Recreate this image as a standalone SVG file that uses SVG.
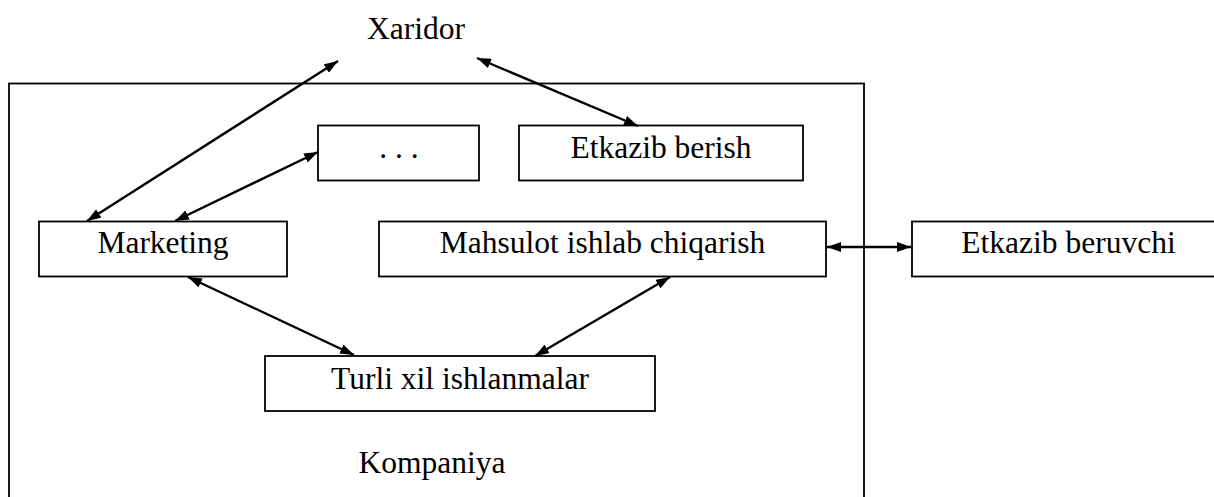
<svg xmlns="http://www.w3.org/2000/svg" width="1214" height="497" viewBox="0 0 1214 497">
<style>
.box{fill:#fff;stroke:#000;stroke-width:1.8}
.frame{fill:none;stroke:#000;stroke-width:1.8}
.lbl{font-family:"Liberation Serif","Times New Roman",serif;font-size:31.5px;fill:#000;text-anchor:middle}
.con{stroke:#000;stroke-width:2.4;fill:none;marker-start:url(#ah);marker-end:url(#ah)}
</style>
<defs>
<marker id="ah" viewBox="0 0 14 10" refX="14" refY="5" markerWidth="14" markerHeight="10" markerUnits="userSpaceOnUse" orient="auto-start-reverse">
<path d="M0,0 L14,5 L0,10 Z" fill="#000"/>
</marker>
</defs>
<g id="kompaniya">
<rect class="frame" x="9" y="83.5" width="855" height="430"/>
<text class="lbl" x="432" y="473">Kompaniya</text>
</g>
<g id="xaridor">
<text class="lbl" x="416" y="39">Xaridor</text>
</g>
<g id="dots">
<rect class="box" x="318" y="125.5" width="161" height="55"/>
<text class="lbl" x="399" y="158">. . .</text>
</g>
<g id="etkazib-berish">
<rect class="box" x="519" y="125.5" width="284" height="55"/>
<text class="lbl" x="661" y="158">Etkazib berish</text>
</g>
<g id="marketing">
<rect class="box" x="39" y="221.5" width="248" height="55"/>
<text class="lbl" x="163" y="253">Marketing</text>
</g>
<g id="mahsulot">
<rect class="box" x="379" y="221.5" width="447" height="55"/>
<text class="lbl" x="602.5" y="253">Mahsulot ishlab chiqarish</text>
</g>
<g id="etkazib-beruvchi">
<rect class="box" x="912" y="221.5" width="320" height="55"/>
<text class="lbl" x="1068.5" y="253">Etkazib beruvchi</text>
</g>
<g id="turli">
<rect class="box" x="265" y="356" width="390" height="55"/>
<text class="lbl" x="460" y="389">Turli xil ishlanmalar</text>
</g>
<g id="connectors">
<line class="con" x1="87" y1="221" x2="338" y2="61"/>
<line class="con" x1="175" y1="221" x2="318" y2="152"/>
<line class="con" x1="477" y1="58" x2="638" y2="126"/>
<line class="con" x1="188" y1="277" x2="354" y2="355"/>
<line class="con" x1="670" y1="277" x2="535" y2="356"/>
<line class="con" x1="827" y1="247" x2="911" y2="247"/>
</g>
</svg>
